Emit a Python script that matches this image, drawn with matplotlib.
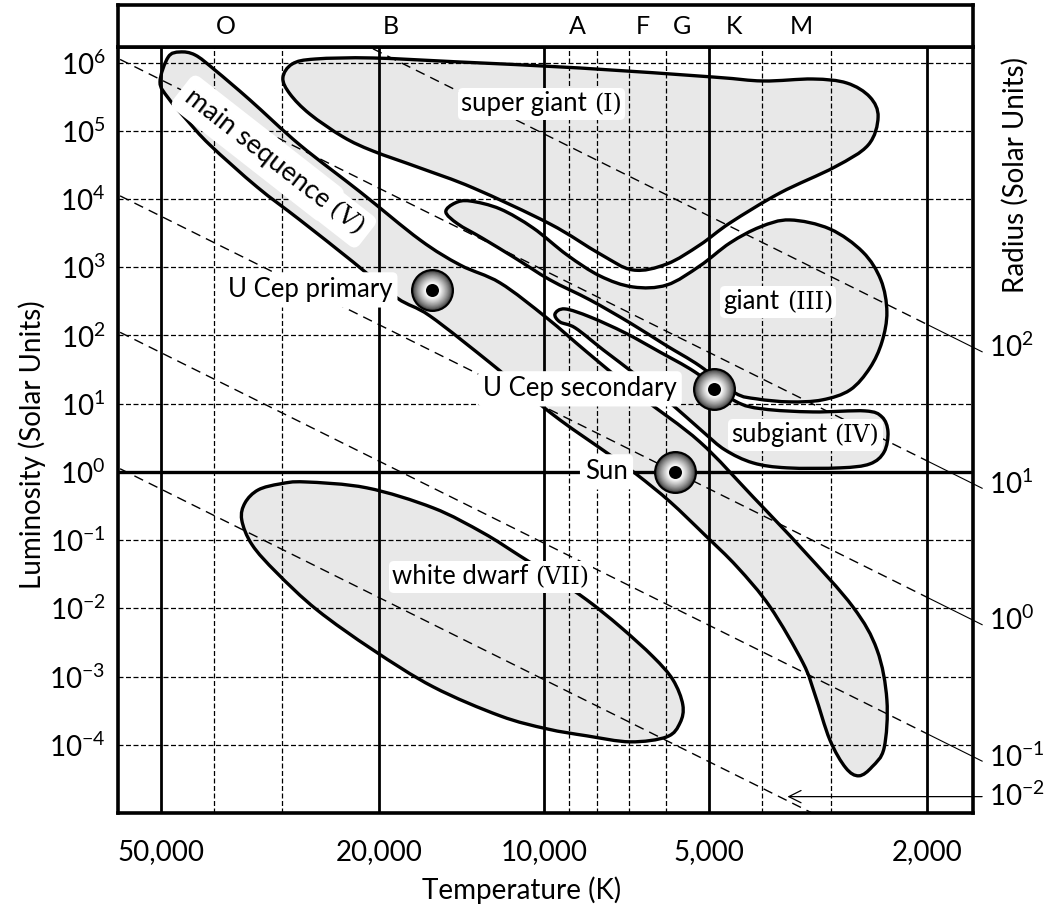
import numpy as np
import matplotlib
matplotlib.use('Agg')
import matplotlib.pyplot as plt
from matplotlib.path import Path
from matplotlib.patches import PathPatch
from matplotlib.offsetbox import TextArea, HPacker, AnnotationBbox
from matplotlib.ticker import FixedLocator, FixedFormatter, NullLocator
from matplotlib.transforms import offset_copy

plt.rcParams['font.family'] = ['Lato', 'DejaVu Sans']
plt.rcParams['mathtext.fontset'] = 'custom'
plt.rcParams['mathtext.rm'] = 'Lato'
plt.rcParams['mathtext.it'] = 'Lato:italic'
plt.rcParams['mathtext.bf'] = 'Lato:bold'

# --- axes data ---
temp_ticks = [50000, 20000, 10000, 5000, 2000]
temp_labels = ['50,000', '20,000', '10,000', '5,000', '2,000']
temp_minor = [40000, 30000, 9000, 8000, 7000, 6000, 4000, 3000]
lum_exponents = [-4, -3, -2, -1, 0, 1, 2, 3, 4, 5, 6]

spectral_classes = ['O', 'B', 'A', 'F', 'G', 'K', 'M']
spectral_temps = [38000, 19000, 8700, 6600, 5600, 4500, 3400]

# constant radius lines (solar radii)
T_SUN = 5772
radius_values = [100, 10, 1, 0.1]
radius_labels = ['$10^{2}$', '$10^{1}$', '$10^{0}$', '$10^{-1}$']
small_radius = 0.01
small_radius_label = '$10^{-2}$'
small_radius_arrow_lum = 10 ** -4.76

# --- region outlines (log10 T, log10 L) ---
supergiant_logT = [4.476, 4.459, 4.417, 4.312, 4.153, 3.934, 3.692, 3.601, 3.510, 3.448,
                   3.406, 3.391, 3.409, 3.470, 3.570, 3.661, 3.716, 3.776, 3.838, 3.898,
                   3.989, 4.129, 4.226, 4.312, 4.366, 4.427, 4.463]
supergiant_logL = [5.774, 5.979, 6.052, 6.067, 6.008, 5.920, 5.788, 5.730, 5.759, 5.700,
                   5.495, 5.202, 4.792, 4.469, 4.088, 3.649, 3.326, 3.048, 2.960, 3.195,
                   3.634, 4.162, 4.455, 4.704, 4.909, 5.246, 5.539]

giant_logT = [4.179, 4.162, 4.135, 4.080, 4.020, 3.958, 3.898, 3.838, 3.776, 3.716,
              3.661, 3.606, 3.552, 3.479, 3.419, 3.386, 3.375, 3.384, 3.406, 3.442,
              3.493, 3.552, 3.612, 3.652, 3.716, 3.779, 3.843, 3.916, 3.989, 4.053,
              4.113, 4.157]
giant_logL = [3.810, 3.942, 3.971, 3.854, 3.576, 3.180, 2.872, 2.711, 2.740, 3.019,
              3.356, 3.590, 3.693, 3.561, 3.224, 2.814, 2.345, 1.905, 1.524, 1.202,
              1.055, 1.026, 1.070, 1.158, 1.553, 1.861, 2.183, 2.520, 2.814, 3.136,
              3.429, 3.634]

subgiant_logT = [3.980, 3.962, 3.916, 3.852, 3.789, 3.725, 3.652, 3.601, 3.510, 3.415,
                 3.384, 3.373, 3.380, 3.406, 3.460, 3.557, 3.619, 3.670, 3.710, 3.770,
                 3.830, 3.892, 3.943, 3.971]
subgiant_logL = [2.315, 2.389, 2.271, 2.037, 1.758, 1.465, 1.040, 0.923, 0.879, 0.894,
                 0.806, 0.586, 0.293, 0.117, 0.059, 0.059, 0.132, 0.322, 0.586, 1.011,
                 1.407, 1.788, 2.110, 2.198]

main_seq_logT = [4.685, 4.664, 4.636, 4.600, 4.536, 4.445, 4.335, 4.226, 4.153, 4.080,
                 3.995, 3.922, 3.825, 3.716, 3.619, 3.528, 3.437, 3.393, 3.375, 3.380,
                 3.402, 3.426, 3.450, 3.479, 3.506, 3.528, 3.588, 3.648, 3.707, 3.770,
                 3.830, 3.880, 3.971, 4.044, 4.098, 4.208, 4.268, 4.348, 4.445, 4.523,
                 4.609, 4.651, 4.685, 4.700]
main_seq_logL = [6.081, 6.155, 6.111, 5.891, 5.451, 4.792, 4.103, 3.400, 3.033, 2.770,
                 2.257, 1.758, 1.114, 0.440, -0.366, -1.143, -1.978, -2.608, -3.341, -4.045,
                 -4.323, -4.455, -4.338, -3.927, -3.268, -2.799, -1.978, -1.392, -0.923, -0.440,
                 -0.044, 0.249, 0.762, 1.231, 1.597, 2.286, 2.550, 3.077, 3.693, 4.176,
                 4.792, 5.158, 5.481, 5.715]

white_dwarf_logT = [4.551, 4.545, 4.521, 4.481, 4.436, 4.323, 4.202, 4.111, 4.044, 3.984,
                    3.922, 3.861, 3.801, 3.765, 3.747, 3.752, 3.776, 3.843, 3.922, 3.995,
                    4.080, 4.202, 4.312, 4.414, 4.487, 4.532]
white_dwarf_logL = [-0.703, -0.454, -0.264, -0.176, -0.147, -0.234, -0.528, -0.894, -1.231, -1.539,
                    -1.876, -2.271, -2.711, -3.048, -3.414, -3.678, -3.883, -3.957, -3.869, -3.766,
                    -3.576, -3.151, -2.608, -2.022, -1.480, -1.070]

# --- region labels ---
region_names = ['super giant', 'giant', 'subgiant', 'white dwarf']
region_classes = ['(I)', '(III)', '(IV)', '(VII)']
region_label_temp = [10100, 3740, 3340, 12500]
region_label_lum = [2.5e5, 310, 3.5, 0.029]

ms_name, ms_class = 'main sequence', '(V)'
ms_label_temp, ms_label_lum, ms_label_angle = 25300, 7150, -38.0

# --- stars ---
star_names = ['U Cep primary', 'U Cep secondary', 'Sun']
star_temp = [16000, 4900, 5772]
star_lum = [465, 16.5, 1.0]
star_label_temp = [18900, 5730, 7030]

FILL = '#e8e8e8'
SERIF = 'DejaVu Serif'


def outline_path(logt, logl):
    # closed Catmull-Rom outline written as cubic bezier segments
    pts = np.column_stack([logt, logl])
    n = len(pts)
    verts = [pts[0]]
    codes = [Path.MOVETO]
    for i in range(n):
        p0, p1, p2, p3 = pts[i - 1], pts[i], pts[(i + 1) % n], pts[(i + 2) % n]
        verts += [p1 + (p2 - p0) / 6, p2 - (p3 - p1) / 6, p2]
        codes += [Path.CURVE4] * 3
    verts.append(pts[0])
    codes.append(Path.CLOSEPOLY)
    return Path(10 ** np.array(verts), codes)


def radius_lum(r, t):
    return r ** 2 * (np.asarray(t, dtype=float) / T_SUN) ** 4


fig = plt.figure(figsize=(10.44, 9.11), dpi=100)
left, width = 118 / 1044, 855 / 1044
ax = fig.add_axes([left, 98 / 911, width, 766 / 911])
hax = fig.add_axes([left, 864 / 911, width, 42 / 911], sharex=ax)

ax.set_xscale('log')
ax.set_yscale('log')
ax.set_xlim(59780, 1652)
ax.set_ylim(1e-5, 10 ** 6.228)

ax.xaxis.set_major_locator(FixedLocator(temp_ticks))
ax.xaxis.set_major_formatter(FixedFormatter(temp_labels))
ax.xaxis.set_minor_locator(NullLocator())
ax.yaxis.set_major_locator(FixedLocator([10.0 ** e for e in lum_exponents]))
ax.yaxis.set_major_formatter(FixedFormatter(['$10^{%d}$' % e for e in lum_exponents]))
ax.yaxis.set_minor_locator(NullLocator())
ax.tick_params(axis='x', length=0, pad=19, labelsize=20)
ax.tick_params(axis='y', length=0, pad=9, labelsize=20)
for s in ax.spines.values():
    s.set_linewidth(2.6)

# grid
for t in temp_minor:
    ax.axvline(t, color='black', lw=0.9, ls=(0, (4, 2)), zorder=2)
for t in temp_ticks:
    ax.axvline(t, color='black', lw=2.0, zorder=2)
for e in lum_exponents:
    if e == 0:
        ax.axhline(1.0, color='black', lw=2.4, zorder=2)
    else:
        ax.axhline(10.0 ** e, color='black', lw=0.9, ls=(0, (4, 2)), zorder=2)

# regions
regions = [
    (supergiant_logT, supergiant_logL),
    (giant_logT, giant_logL),
    (main_seq_logT, main_seq_logL),
    (white_dwarf_logT, white_dwarf_logL),
    (subgiant_logT, subgiant_logL),
]
for lt, ll in regions:
    p = outline_path(lt, ll)
    ax.add_patch(PathPatch(p, facecolor=FILL, edgecolor='none', zorder=1))
    ax.add_patch(PathPatch(p, facecolor='none', edgecolor='black', lw=2.4, zorder=3,
                           joinstyle='round'))

# lines of constant radius
t_span = np.array([80000, 2000])
t_lead = np.array([2000, 1590])
for r, lab in zip(radius_values, radius_labels):
    ax.plot(t_span, radius_lum(r, t_span), color='black', lw=1.0,
            ls=(0, (7, 4.5)), zorder=2.5)
    ax.plot(t_lead, radius_lum(r, t_lead), color='black', lw=0.8,
            zorder=2.5, clip_on=False)
    ax.annotate(lab, (1590, radius_lum(r, 1590)), xytext=(5, 3),
                textcoords='offset points', ha='left', va='center',
                fontsize=20, annotation_clip=False)
ax.plot(t_span, radius_lum(small_radius, t_span), color='black', lw=1.0,
        ls=(0, (7, 4.5)), zorder=2.5)
ax.annotate('', xy=(3600, small_radius_arrow_lum), xytext=(1590, small_radius_arrow_lum),
            arrowprops=dict(arrowstyle='->', lw=0.9, color='black', mutation_scale=22,
                            shrinkA=0, shrinkB=0),
            annotation_clip=False, zorder=4)
ax.annotate(small_radius_label, (1590, small_radius_arrow_lum), xytext=(5, 0),
            textcoords='offset points', ha='left', va='center', fontsize=20,
            annotation_clip=False)

# region labels with serif luminosity classes
box_style = dict(boxstyle='round,pad=0.25,rounding_size=0.35', facecolor='white',
                 edgecolor='none')
for name, cls, t, l in zip(region_names, region_classes, region_label_temp, region_label_lum):
    pack = HPacker(children=[TextArea(name, textprops=dict(fontsize=18.5)),
                             TextArea(cls, textprops=dict(fontsize=17, family=SERIF))],
                   align='baseline', pad=0, sep=5)
    ab = AnnotationBbox(pack, (t, l), xycoords='data', frameon=True, pad=0.25,
                        box_alignment=(0.5, 0.5), bboxprops=box_style, zorder=5)
    ax.add_artist(ab)

# rotated main sequence label, split at the class numeral
ang = np.deg2rad(ms_label_angle)
gap = 6
ax.text(ms_label_temp, ms_label_lum, ms_name, rotation=ms_label_angle,
        rotation_mode='anchor', ha='right', va='baseline', fontsize=19.5, zorder=5,
        bbox=dict(boxstyle='round,pad=0.3', facecolor='white', edgecolor='none'))
ax.text(ms_label_temp, ms_label_lum, ms_class, rotation=ms_label_angle,
        rotation_mode='anchor', ha='left', va='baseline', fontsize=18, family=SERIF,
        zorder=5,
        transform=offset_copy(ax.transData, fig=fig, x=gap * np.cos(ang),
                              y=gap * np.sin(ang), units='dots'),
        bbox=dict(boxstyle='round,pad=0.3', facecolor='white', edgecolor='none'))

# stars
for name, t, l, lt in zip(star_names, star_temp, star_lum, star_label_temp):
    ax.text(lt, l, name, ha='right', va='center', fontsize=18.5, zorder=5,
            bbox=dict(boxstyle='round,pad=0.2', facecolor='white', edgecolor='none'))
    ax.plot(t, l, 'o', ms=2 * 21.5 * 0.72, mfc='black', mec='none', zorder=6)
    radii = np.linspace(19.3, 8.0, 16)
    for r in radii:
        g = 0.28 + 0.68 * ((19.3 - r) / (19.3 - 8.0)) ** 0.8
        ax.plot(t, l, 'o', ms=2 * r * 0.72, mfc=str(g), mec='none', zorder=6)
    ax.plot(t, l, 'o', ms=2 * 6.5 * 0.72, mfc='black', mec='none', zorder=6)

# spectral class header
hax.set_ylim(0, 1)
hax.tick_params(which='both', length=0, labelbottom=False, labelleft=False)
hax.set_yticks([])
for s in hax.spines.values():
    s.set_linewidth(2.6)
for c, t in zip(spectral_classes, spectral_temps):
    hax.text(t, 0.5, c, ha='center', va='center', fontsize=18)

fig.text(522 / 1044, 1 - 890 / 911, 'Temperature (K)', ha='center', va='center', fontsize=20)
fig.text(32 / 1044, 1 - 445 / 911, 'Luminosity (Solar Units)', rotation=90,
         ha='center', va='center', fontsize=20)
fig.text(1015 / 1044, 1 - 175 / 911, 'Radius (Solar Units)', rotation=90,
         ha='center', va='center', fontsize=20)

fig.savefig('out.png', dpi=100)
